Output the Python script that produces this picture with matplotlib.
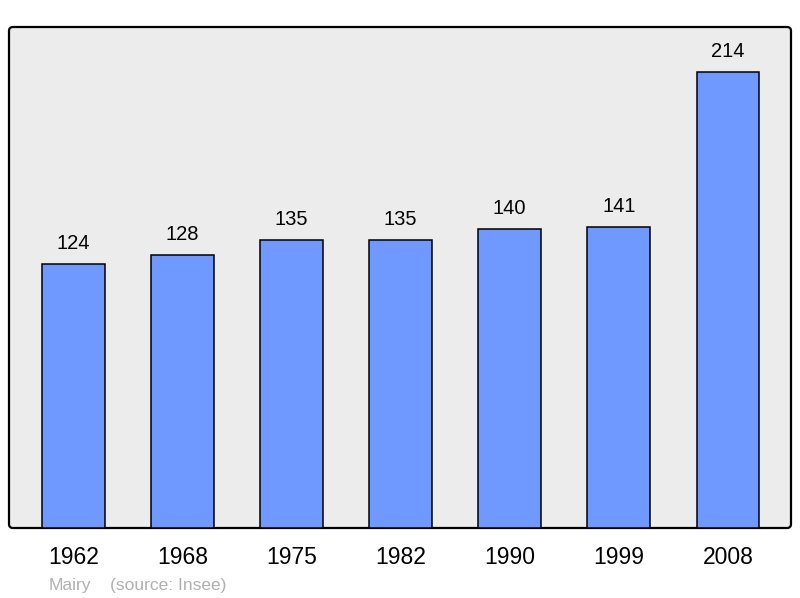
import matplotlib.pyplot as plt
from matplotlib.patches import FancyBboxPatch
from matplotlib.transforms import IdentityTransform

plt.rcParams['font.family'] = ['Liberation Sans', 'DejaVu Sans']

# population data
years = ["1962", "1968", "1975", "1982", "1990", "1999", "2008"]
population = [124, 128, 135, 135, 140, 141, 214]

fig = plt.figure(figsize=(8, 5.98), dpi=100)

# gray panel with rounded corners (display pixel coords)
panel = FancyBboxPatch((9, 70), 782, 501, boxstyle="round,pad=0,rounding_size=4",
                       facecolor="#ececec", edgecolor="black", linewidth=1.6,
                       transform=IdentityTransform(), zorder=0)
fig.add_artist(panel)

ax = fig.add_axes([0.0105, 0.117, 0.9775, 0.838])
ax.patch.set_visible(False)
for s in ax.spines.values():
    s.set_visible(False)

x = range(len(years))
ax.bar(x, population, width=0.576, color="#7099ff", edgecolor="black", linewidth=1.1, zorder=2)

# value labels
for i, v in enumerate(population):
    ax.annotate(str(v), (i, v), xytext=(0, 8), textcoords="offset points",
                ha="center", va="bottom", fontsize=14.5, color="black")

ax.set_xlim(-0.594, 6.572)
ax.set_ylim(0, 235)
ax.set_yticks([])
ax.set_xticks(list(x))
ax.set_xticklabels(years, fontsize=16.5)
ax.tick_params(axis="x", length=0, pad=13)

fig.text(49 / 800, 1 - 590 / 598, "Mairy", fontsize=12.5, color="#b0b0b0", ha="left", va="baseline")
fig.text(110 / 800, 1 - 590 / 598, "(source: Insee)", fontsize=12.5, color="#b0b0b0", ha="left", va="baseline")

plt.savefig("out.png", dpi=100)
